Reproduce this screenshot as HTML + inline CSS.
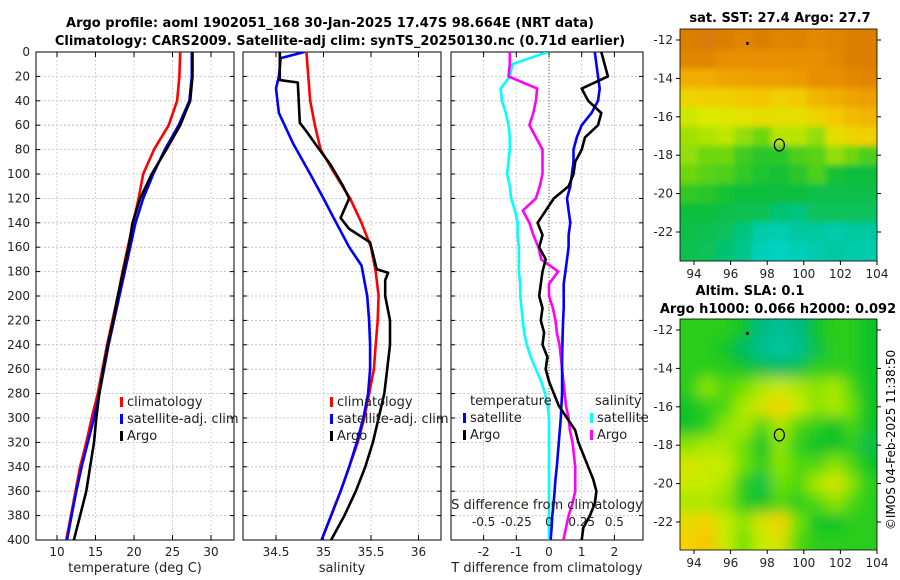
<!DOCTYPE html>
<html><head><meta charset="utf-8"><style>
body{margin:0;background:#fff;}
svg{display:block;font-family:"DejaVu Sans","Liberation Sans",sans-serif;}
</style></head><body>
<svg id="fig" width="900" height="580" viewBox="0 0 900 580" xmlns="http://www.w3.org/2000/svg">
<defs>
<clipPath id="c1"><rect x="36" y="52" width="198" height="488"/></clipPath>
<clipPath id="c2"><rect x="243" y="52" width="198" height="488"/></clipPath>
<clipPath id="c3"><rect x="451" y="52" width="192" height="488"/></clipPath>
<clipPath id="cm1"><rect x="680" y="29" width="197" height="232"/></clipPath>
<clipPath id="cm2"><rect x="680" y="319" width="197" height="231"/></clipPath>
<filter id="blur1" x="0" y="0" width="1" height="1"><feGaussianBlur stdDeviation="3"/></filter>
<filter id="blur2" x="0" y="0" width="1" height="1"><feGaussianBlur stdDeviation="7"/></filter>
</defs>
<text x="330" y="27" text-anchor="middle" font-size="13" font-weight="bold">Argo profile: aoml 1902051_168 30-Jan-2025 17.47S 98.664E (NRT data)</text>
<text x="340" y="45" text-anchor="middle" font-size="13" font-weight="bold">Climatology: CARS2009. Satellite-adj clim: synTS_20250130.nc (0.71d earlier)</text>
<g id="g1"></g>
<g id="g2"></g>
<g id="g3"></g>
<g id="gm1"></g>
<g id="gm2"></g>
<text x="780" y="22" text-anchor="middle" font-size="13" font-weight="bold">sat. SST: 27.4 Argo: 27.7</text>
<text x="750" y="295" text-anchor="middle" font-size="13" font-weight="bold">Altim. SLA: 0.1</text>
<text x="778" y="313" text-anchor="middle" font-size="13" font-weight="bold">Argo h1000: 0.066 h2000: 0.092</text>
<text transform="translate(895,440) rotate(-90)" text-anchor="middle" font-size="12">©IMOS 04-Feb-2025 11:38:50</text>
</svg>
<script>
// ---------- data ----------
const depths = [0,20,40,60,80,100,120,140,160,180,200,220,240,260,280,300,320,340,360,380,400];
const tempClim = [26.0,25.9,25.6,24.5,22.6,21.2,20.6,19.9,19.2,18.5,17.9,17.2,16.5,15.9,15.3,14.5,13.8,13.0,12.4,11.8,11.2];
const tempSat = [27.5,27.5,27.2,25.8,24.0,22.5,21.2,20.2,19.5,18.8,18.1,17.4,16.7,16.1,15.5,14.8,14.0,13.2,12.5,11.9,11.3];
const argoTempDepths = [0,20,40,60,80,100,120,140,160,180,200,220,240,260,280,300,320,340,360,380,400];
const tempArgo = [27.6,27.6,27.3,26.0,24.2,22.3,20.8,19.8,19.3,18.6,17.9,17.3,16.6,16.0,15.5,15.1,14.8,14.3,13.8,13.0,12.2];
const salClim = [34.82,34.84,34.86,34.91,34.97,35.12,35.28,35.4,35.5,35.55,35.58,35.57,35.55,35.53,35.48,35.43,35.36,35.27,35.18,35.08,34.98];
const salSatDepths = [0,5,20,30,50,75,100,120,135,160,175,200,220,240,260,280,300,320,340,360,380,400];
const salSat = [34.8,34.55,34.53,34.5,34.53,34.68,34.86,35.0,35.1,35.27,35.4,35.46,35.48,35.49,35.49,35.47,35.42,35.35,35.27,35.18,35.08,34.98];
const argoSalDepths = [0,23,25,58,65,76,92,109,120,136,145,156,178,181,187,200,220,240,260,280,300,320,340,360,380,400];
const salArgo = [34.54,34.54,34.73,34.75,34.82,34.92,35.07,35.2,35.27,35.18,35.27,35.49,35.56,35.68,35.65,35.65,35.7,35.7,35.67,35.64,35.58,35.52,35.44,35.34,35.22,35.08];
const diffDepths = [0,10,20,30,40,50,60,70,80,90,100,110,120,130,140,150,160,170,180,190,200,210,220,230,240,250,260,270,280,290,300,310,320,330,340,350,360,370,380,390,400];
const tDiffArgo = [1.6,1.7,1.8,1.0,1.2,1.6,1.5,1.1,1.0,0.8,0.75,0.6,0.15,-0.1,-0.35,-0.2,-0.3,-0.1,-0.2,-0.25,-0.3,-0.2,-0.25,-0.15,-0.2,-0.05,-0.1,0.0,0.15,0.3,0.55,0.8,0.9,1.05,1.2,1.35,1.45,1.4,1.25,1.05,1.0];
const tDiffSat = [1.4,1.45,1.5,1.55,1.5,1.3,1.0,0.85,0.75,0.75,0.7,0.65,0.55,0.6,0.65,0.6,0.6,0.55,0.5,0.45,0.45,0.45,0.43,0.42,0.41,0.4,0.4,0.4,0.4,0.38,0.36,0.33,0.3,0.27,0.24,0.2,0.17,0.14,0.1,0.08,0.05];
const sDiffSat = [-0.01,-0.28,-0.3,-0.37,-0.36,-0.33,-0.31,-0.3,-0.3,-0.31,-0.32,-0.3,-0.29,-0.26,-0.24,-0.24,-0.23,-0.23,-0.23,-0.22,-0.22,-0.21,-0.2,-0.19,-0.17,-0.14,-0.1,-0.06,-0.03,-0.01,0,0,0,0,0,0,0,0,0,0,0];
const sDiffArgo = [-0.3,-0.3,-0.31,-0.09,-0.1,-0.12,-0.15,-0.1,-0.05,-0.05,-0.05,-0.07,-0.1,-0.2,-0.15,-0.12,-0.08,-0.06,0.07,0.0,0.0,0.03,0.05,0.06,0.08,0.09,0.1,0.11,0.12,0.13,0.15,0.16,0.18,0.19,0.2,0.2,0.2,0.18,0.15,0.13,0.11];
const depthTicks = [0,20,40,60,80,100,120,140,160,180,200,220,240,260,280,300,320,340,360,380,400];
const tempTicks = [10,15,20,25,30];
const salTicks = [34.5,35,35.5,36];
const tDiffTicks = [-2,-1,0,1,2];
const sDiffTicks = [-0.5,-0.25,0,0.25,0.5];
const sDiffTickLabels = ["-0.5","-0.25","0","0.25","0.5"];
const mapLons = [93.7,94.7,95.7,96.7,97.7,98.7,99.7,100.7,101.7,102.7,103.5];
const mapLats = [-12,-13,-14,-15,-16,-17,-18,-19,-20,-21,-22,-23];
const sstGrid = [
[0.95,0.96,0.95,0.93,0.95,0.93,0.94,0.92,0.93,0.95,0.95],
[0.93,0.93,0.9,0.9,0.9,0.9,0.9,0.9,0.92,0.95,0.95],
[0.82,0.82,0.84,0.85,0.86,0.86,0.87,0.9,0.9,0.92,0.93],
[0.7,0.72,0.72,0.74,0.76,0.72,0.74,0.8,0.82,0.84,0.86],
[0.58,0.6,0.62,0.64,0.66,0.65,0.65,0.7,0.75,0.78,0.8],
[0.52,0.54,0.56,0.5,0.45,0.55,0.55,0.5,0.66,0.7,0.72],
[0.5,0.45,0.45,0.38,0.35,0.35,0.4,0.42,0.5,0.45,0.4],
[0.45,0.42,0.4,0.36,0.33,0.32,0.35,0.4,0.32,0.3,0.3],
[0.36,0.35,0.32,0.3,0.3,0.3,0.3,0.28,0.28,0.28,0.28],
[0.3,0.3,0.28,0.27,0.26,0.22,0.2,0.25,0.25,0.25,0.25],
[0.28,0.27,0.25,0.2,0.12,0.1,0.15,0.15,0.12,0.15,0.15],
[0.27,0.25,0.22,0.18,0.08,0.05,0.08,0.12,0.15,0.12,0.12]];
const slaGrid = [
[0.35,0.35,0.35,0.3,0.15,0.1,0.15,0.3,0.35,0.35,0.3],
[0.35,0.35,0.3,0.2,0.1,0.05,0.1,0.25,0.35,0.35,0.3],
[0.35,0.35,0.35,0.3,0.25,0.2,0.25,0.35,0.35,0.35,0.3],
[0.35,0.5,0.4,0.45,0.55,0.6,0.55,0.5,0.55,0.4,0.3],
[0.3,0.35,0.4,0.55,0.65,0.75,0.6,0.5,0.55,0.45,0.3],
[0.3,0.35,0.5,0.55,0.4,0.55,0.4,0.35,0.3,0.4,0.3],
[0.5,0.55,0.55,0.45,0.3,0.5,0.35,0.3,0.3,0.35,0.25],
[0.65,0.6,0.6,0.45,0.35,0.5,0.4,0.4,0.5,0.4,0.3],
[0.6,0.6,0.55,0.35,0.25,0.45,0.4,0.55,0.65,0.5,0.35],
[0.55,0.55,0.5,0.35,0.3,0.4,0.35,0.4,0.5,0.4,0.35],
[0.7,0.75,0.6,0.5,0.65,0.75,0.45,0.3,0.3,0.35,0.35],
[0.75,0.8,0.6,0.45,0.6,0.65,0.4,0.35,0.35,0.35,0.35]];
const lonTicks = [94,96,98,100,102,104];
const latTicks = [-12,-14,-16,-18,-20,-22];
const floatLon = 98.664, floatLat = -17.47;

// ---------- helpers ----------
const NS = "http://www.w3.org/2000/svg";
function mk(tag, parent, attrs){const e=document.createElementNS(NS,tag);for(const k in attrs)e.setAttribute(k,attrs[k]);parent.appendChild(e);return e;}
const yD = d => 52 + d*(488/400);
const xT = t => 57 + (t-10)*7.7;
const xS = s => 276 + (s-34.5)*95;
const xTd = v => 549 + v*32.7;
const xSd = v => 549 + v*4*32.7;
const xLon = lon => 694 + (lon-94)*18.3;
const yLat1 = lat => 40 + (-12-lat)*19.2;
const yLat2 = lat => 330 + (-12-lat)*19.2;

function frame(g, x0, w, xticks, xfn, labels, xlabel, showY){
  const grid = mk('g', g, {});
  
  
  depthTicks.forEach(d=>{ if(d>0&&d<400){
    const l=mk('line',grid,{x1:x0,x2:x0+w,y1:yD(d),y2:yD(d),stroke:'#b4b8e0','stroke-width':0.8,'stroke-dasharray':'2,2'});
    
    }});
  xticks.forEach((t,i)=>{
    const x=xfn(t);
    const l=mk('line',grid,{x1:x,x2:x,y1:52,y2:540,stroke:'#d8c0b0','stroke-width':0.8,'stroke-dasharray':'2,2'});
    
    
    mk('line',g,{x1:x,x2:x,y1:540,y2:535,stroke:'#000'});
    mk('line',g,{x1:x,x2:x,y1:52,y2:57,stroke:'#000'});
    const tx=mk('text',g,{x:x,y:556,'text-anchor':'middle','font-size':12,fill:'#222'});
    tx.textContent=labels?labels[i]:String(t);
    
    
  });
  depthTicks.forEach(d=>{
    mk('line',g,{x1:x0,x2:x0+4,y1:yD(d),y2:yD(d),stroke:'#000'});
    mk('line',g,{x1:x0+w,x2:x0+w-4,y1:yD(d),y2:yD(d),stroke:'#000'});
    if(showY){const tx=mk('text',g,{x:30,y:yD(d)+4,'text-anchor':'end','font-size':12,fill:'#222'});tx.textContent=d;
      
      }
  });
  const r=mk('rect',g,{x:x0,y:52,width:w,height:488,fill:'none',stroke:'#000','stroke-width':1});
  
  
  const xl=mk('text',g,{x:x0+w/2,y:572,'text-anchor':'middle','font-size':13,fill:'#222'});
  xl.textContent=xlabel;
  
  
}
function line(g, clip, ds, vs, xfn, color, name){
  const p=ds.map((d,i)=>(i?'L':'M')+xfn(vs[i]).toFixed(1)+','+yD(d).toFixed(1)).join('');
  const e=mk('path',g,{d:p,fill:'none',stroke:color,'stroke-width':2.6,'stroke-linejoin':'round','clip-path':'url(#'+clip+')'});
  
  
}
function legend(g, x, y, items){
  items.forEach((it,i)=>{
    const yy=y+i*17;
    const m=mk('rect',g,{x:x,y:yy-9,width:3,height:10,fill:it[1]});
    
    
    const t=mk('text',g,{x:x+7,y:yy,'font-size':13,fill:'#222'});
    t.textContent=it[0];
    
    
  });
}

// panel 1
const g1=document.getElementById('g1');
frame(g1,36,198,tempTicks,xT,null,'temperature (deg C)',true);
line(g1,'c1',depths,tempClim,xT,'#ff0000','climatology-temp-line');
line(g1,'c1',depths,tempSat,xT,'#0000ff','satellite-temp-line');
line(g1,'c1',argoTempDepths,tempArgo,xT,'#000000','argo-temp-line');
legend(g1,120,406,[['climatology','#ff0000'],['satellite-adj. clim','#0000ff'],['Argo','#000']]);
// panel 2
const g2=document.getElementById('g2');
frame(g2,243,198,salTicks,xS,null,'salinity',false);
line(g2,'c2',depths,salClim,xS,'#ff0000','climatology-salinity-line');
line(g2,'c2',salSatDepths,salSat,xS,'#0000ff','satellite-salinity-line');
line(g2,'c2',argoSalDepths,salArgo,xS,'#000000','argo-salinity-line');
legend(g2,330,406,[['climatology','#ff0000'],['satellite-adj. clim','#0000ff'],['Argo','#000']]);
// panel 3
const g3=document.getElementById('g3');
frame(g3,451,192,tDiffTicks,xTd,null,'T difference from climatology',false);
const z=mk('line',g3,{x1:549,x2:549,y1:52,y2:540,stroke:'#556b2f','stroke-width':1,'stroke-dasharray':'1,2'});


line(g3,'c3',diffDepths,sDiffSat,xSd,'#00ffff','satellite-salinity-diff-line');
line(g3,'c3',diffDepths,sDiffArgo,xSd,'#ff00ff','argo-salinity-diff-line');
line(g3,'c3',diffDepths,tDiffSat,xTd,'#0000ff','satellite-temp-diff-line');
line(g3,'c3',diffDepths,tDiffArgo,xTd,'#000000','argo-temp-diff-line');
let t3=mk('text',g3,{x:470,y:405,'font-size':13,fill:'#222'});t3.textContent='temperature';


t3=mk('text',g3,{x:595,y:405,'font-size':13,fill:'#222'});t3.textContent='salinity';


legend(g3,463,422,[['satellite','#0000ff'],['Argo','#000']]);
legend(g3,590,422,[['satellite','#00ffff'],['Argo','#ff00ff']]);
t3=mk('text',g3,{x:547,y:509,'text-anchor':'middle','font-size':13,fill:'#222'});t3.textContent='S difference from climatology';


sDiffTicks.forEach((s,i)=>{const t=mk('text',g3,{x:xSd(s),y:526,'text-anchor':'middle','font-size':12,fill:'#222'});t.textContent=sDiffTickLabels[i];
  
  });

// maps
function color(v, stops){
  for(let i=1;i<stops.length;i++){ if(v<=stops[i][0]||i==stops.length-1){
    const a=stops[i-1],b=stops[i];const f=Math.max(0,Math.min(1,(v-a[0])/(b[0]-a[0])));
    return 'rgb('+[1,2,3].map(k=>Math.round(a[k]+(b[k]-a[k])*f)).join(',')+')';}}
}
const sstStops=[[0,0,215,210],[0.15,0,200,160],[0.3,10,190,60],[0.45,110,215,10],[0.6,220,235,0],[0.75,245,200,0],[0.88,235,150,0],[1,210,110,10]];
const slaStops=[[0,0,205,180],[0.15,0,185,130],[0.3,10,195,40],[0.45,110,225,0],[0.6,200,235,0],[0.75,245,210,0],[0.9,245,170,0]];
function map(gid, clip, grid, stops, yLat, y0, h, blurId){
  const g=document.getElementById(gid);
  const cells=mk('g',g,{'clip-path':'url(#'+clip+')'});
  const inner=mk('g',cells,{filter:'url(#'+blurId+')'});
  const dLon=1.0, dLat=1.0;
  grid.forEach((row,r)=>row.forEach((v,c)=>{
    const x1=xLon(mapLons[c]-dLon/2-(c==0?1:0)), x2=xLon(mapLons[c]+dLon/2+(c==row.length-1?1:0));
    const ya=yLat(mapLats[r]+dLat/2+(r==0?1:0)), yb=yLat(mapLats[r]-dLat/2-(r==grid.length-1?1:0));
    const e=mk('rect',inner,{x:x1,y:ya,width:x2-x1+0.5,height:yb-ya+0.5,fill:color(v,stops)});
    
    
  }));
  const c=mk('ellipse',g,{cx:xLon(floatLon),cy:yLat(floatLat),rx:5,ry:6,fill:'none',stroke:'#000','stroke-width':1.2});
  
  
  const dot=mk('rect',g,{x:xLon(96.85),y:yLat(-12.1),width:2.5,height:3,fill:'#000'});
  
  
  const fr=mk('rect',g,{x:680,y:y0,width:197,height:h,fill:'none',stroke:'#000','stroke-width':0.8});
  
  
  lonTicks.forEach(l=>{
    mk('line',g,{x1:xLon(l),x2:xLon(l),y1:y0+h,y2:y0+h+4,stroke:'#000'});
    const t=mk('text',g,{x:xLon(l),y:y0+h+17,'text-anchor':'middle','font-size':12,fill:'#222'});t.textContent=l;
    
    
  });
  latTicks.forEach(l=>{
    mk('line',g,{x1:676,x2:680,y1:yLat(l),y2:yLat(l),stroke:'#000'});
    mk('line',g,{x1:877,x2:881,y1:yLat(l),y2:yLat(l),stroke:'#000'});
    const t=mk('text',g,{x:673,y:yLat(l)+4,'text-anchor':'end','font-size':12,fill:'#222'});t.textContent=l;
    
    
  });
}
map('gm1','cm1',sstGrid,sstStops,yLat1,29,232,'blur1');
map('gm2','cm2',slaGrid,slaStops,yLat2,319,231,'blur2');
</script>
</body></html>
